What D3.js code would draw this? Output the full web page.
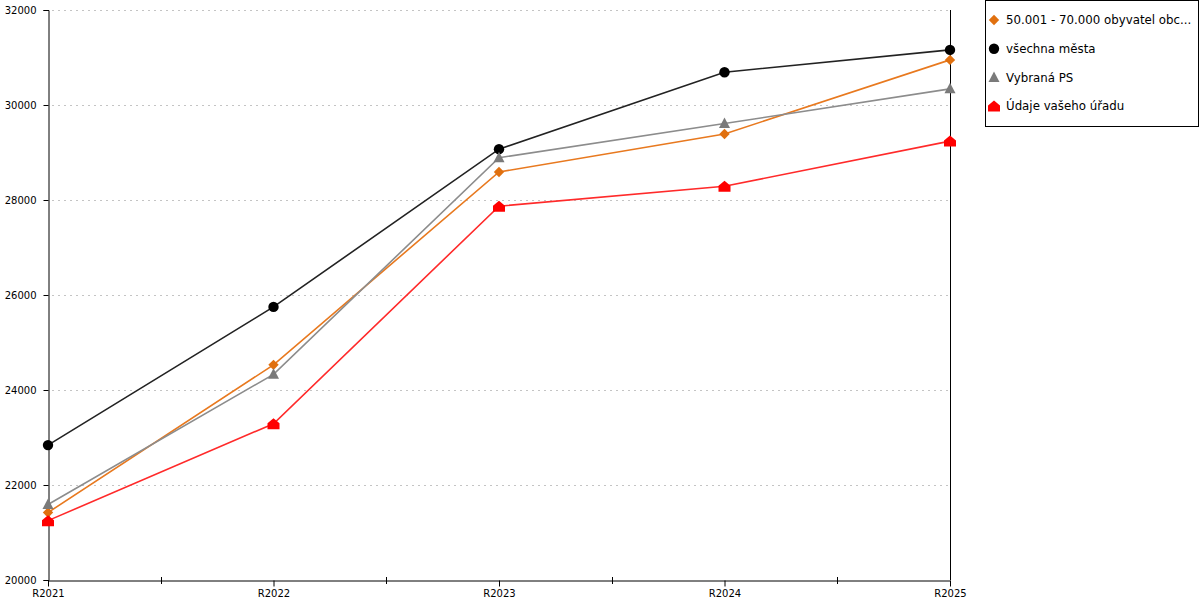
<!DOCTYPE html>
<html>
<head>
<meta charset="utf-8">
<script src="https://cdn.jsdelivr.net/npm/d3@7"></script>
<style>
  body { margin: 0; background: #fff; }
  svg { font-family: "DejaVu Sans", Verdana, sans-serif; }
</style>
</head>
<body>
<svg width="1200" height="600"></svg>
<script>
// data
let categories = ["R2021", "R2022", "R2023", "R2024", "R2025"]
let yTicks = [20000, 22000, 24000, 26000, 28000, 30000, 32000]

let seriesNames = ["50.001 - 70.000 obyvatel obc...", "všechna města", "Vybraná PS", "Údaje vašeho úřadu"]
let orangeValues = [21420, 24530, 28590, 29390, 30950]
let blackValues = [22840, 25750, 29070, 30690, 31160]
let grayValues = [21590, 24330, 28890, 29610, 30340]
let redValues = [21250, 23290, 27870, 28290, 29240]

let lineColors = ["#e8791f", "#222222", "#8c8c8c", "#ff2a2a"]
let markColors = ["#e0700f", "#000000", "#7a7a7a", "#ff0000"]
let markTypes = ["diamond", "circle", "triangle", "house"]

let series = [orangeValues, blackValues, grayValues, redValues]

let width = 1200
let height = 600
let plotLeft = 48, plotRight = 950, plotTop = 10, plotBottom = 580

let svg = d3.select('svg')

let xScale = d3.scalePoint().domain(categories).range([plotLeft, plotRight])
let yScale = d3.scaleLinear().domain([20000, 32000]).range([plotBottom, plotTop])

// marker drawing
let drawMark = (g, type, color) => {
    if (type === "circle") {
        g.append('circle').attr('r', 5.2).attr('fill', color)
    } else if (type === "diamond") {
        g.append('path').attr('d', 'M0,-5.2L5.2,0L0,5.2L-5.2,0Z').attr('fill', color)
    } else if (type === "triangle") {
        g.append('path').attr('d', 'M0,-6L5.5,4.5L-5.5,4.5Z').attr('fill', color)
    } else {
        g.append('path').attr('d', 'M0,-5.5L6,-0.5L6,5.5L-6,5.5L-6,-0.5Z').attr('fill', color)
    }
}

// grid
svg.append('g')
    .selectAll('line')
    .data(yTicks.filter(d => d > 20000))
    .join('line')
    .attr('x1', plotLeft + 4).attr('x2', plotRight)
    .attr('y1', d => yScale(d) + 0.5).attr('y2', d => yScale(d) + 0.5)
    .attr('stroke', '#c4c4c4')
    .attr('stroke-dasharray', '2,4')

// y axis
let yAxis = d3.axisLeft(yScale).tickValues(yTicks).tickFormat(d3.format('d')).tickSize(5).tickPadding(7)
let gy = svg.append('g')
    .attr('transform', 'translate(' + (plotLeft + 0.5) + ',0)')
    .call(yAxis)
gy.selectAll('text').attr('font-size', 10).attr('fill', '#000').attr('font-family', 'DejaVu Sans')
gy.select('.domain').attr('stroke', '#000')

// right border
svg.append('line')
    .attr('x1', plotRight + 0.5).attr('x2', plotRight + 0.5)
    .attr('y1', plotTop).attr('y2', plotBottom)
    .attr('stroke', '#000')

// x axis
let xAxis = d3.axisBottom(xScale).tickSize(6).tickPadding(3).tickSizeOuter(0)
let gx = svg.append('g')
    .attr('transform', 'translate(0,' + (plotBottom + 0.5) + ')')
    .call(xAxis)
gx.selectAll('text').attr('font-size', 10).attr('fill', '#000').attr('font-family', 'DejaVu Sans')
gx.select('.domain').attr('stroke', '#000')

// minor x ticks halfway between categories
let mids = categories.slice(1).map((c, i) => (xScale(c) + xScale(categories[i])) / 2)
svg.append('g')
    .selectAll('line')
    .data(mids)
    .join('line')
    .attr('x1', d => Math.round(d) + 0.5).attr('x2', d => Math.round(d) + 0.5)
    .attr('y1', plotBottom - 3).attr('y2', plotBottom + 4)
    .attr('stroke', '#000')

// lines
let line = d3.line()
    .x((d, i) => xScale(categories[i]))
    .y(d => yScale(d))

series.forEach((vals, s) => {
    svg.append('path')
        .datum(vals)
        .attr('d', line)
        .attr('fill', 'none')
        .attr('stroke', lineColors[s])
        .attr('stroke-width', 1.6)
})

series.forEach((vals, s) => {
    vals.forEach((v, i) => {
        let g = svg.append('g')
            .attr('transform', 'translate(' + xScale(categories[i]) + ',' + yScale(v) + ')')
        drawMark(g, markTypes[s], markColors[s])
    })
})

// legend
let legend = svg.append('g')
legend.append('rect')
    .attr('x', 985.5).attr('y', 0.5)
    .attr('width', 213).attr('height', 126)
    .attr('fill', '#fff').attr('stroke', '#000')

seriesNames.forEach((name, s) => {
    let cy = 20 + s * 28.7
    let g = legend.append('g').attr('transform', 'translate(994,' + cy + ')')
    drawMark(g, markTypes[s], markColors[s])
    legend.append('text')
        .attr('x', 1006).attr('y', cy)
        .attr('dy', '0.35em')
        .attr('font-size', 11.8)
        .text(name)
})
</script>
</body>
</html>
